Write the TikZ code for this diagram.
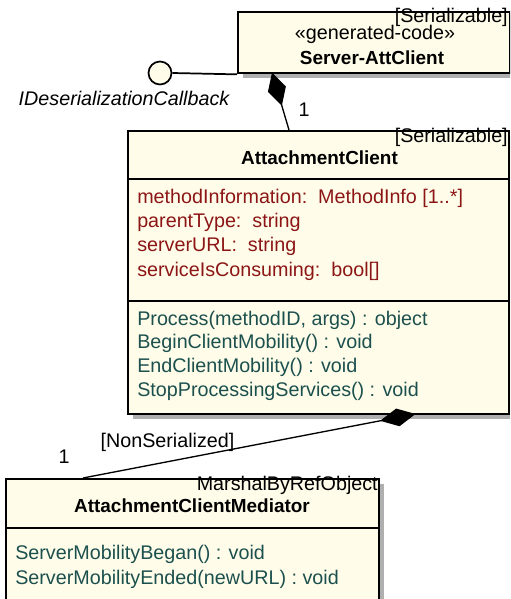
\documentclass[tikz,border=0pt]{standalone}
\usepackage{fontspec}
\setmainfont{Liberation Sans}
\usetikzlibrary{arrows.meta,shadows}
\definecolor{attrc}{RGB}{140,22,22}
\definecolor{methc}{RGB}{28,80,78}
\definecolor{boxfill}{RGB}{255,253,233}
\definecolor{shadowc}{RGB}{175,175,175}
\begin{document}
\begin{tikzpicture}[x=0.75pt,y=-0.75pt,
  umlbox/.style={draw=black, line width=1.4pt, fill=boxfill, inner sep=0pt, anchor=north west,
     drop shadow={shadow xshift=3.75pt, shadow yshift=-3.75pt, fill=shadowc, opacity=1}},
  txt/.style={inner sep=0pt, font=\fontsize{14.8}{17}\selectfont},
  boldtxt/.style={inner sep=0pt, anchor=center, font=\fontsize{14.2}{17}\selectfont\bfseries},
  lft/.style={txt, anchor=west},
  rgt/.style={txt, anchor=east},
  ctr/.style={txt, anchor=center},
  conn/.style={draw=black, line width=1pt},
  compo/.style={conn, -{Diamond[length=26pt, width=14pt, fill=black]}},
]
\useasboundingbox (0,0) rectangle (510,599);
\clip (0,0) rectangle (510,599);

% boxes
\node[umlbox, minimum width=272*0.75pt, minimum height=61.5*0.75pt] (srv) at (237,11) {};
\node[umlbox, minimum width=381*0.75pt, minimum height=283*0.75pt] (ac) at (127,130) {};
\node[umlbox, minimum width=373*0.75pt, minimum height=150*0.75pt] (med) at (5,478) {};

% compartment separators
\draw[line width=1.4pt] (127,179) coordinate (acd1a) -- (508,179) coordinate (acd1b);
\draw[line width=1.4pt] (127,301) coordinate (acd2a) -- (508,301) coordinate (acd2b);
\draw[line width=1.4pt] (5,528) coordinate (medda) -- (378,528) coordinate (meddb);

% Server-AttClient texts
\node[rgt] (srvst) at (508,17) {[Serializable]};
\node[ctr] (srvg) at (375,34.5) {«generated-code»};
\node[boldtxt] (srvn) at (372,57.5) {Server-AttClient};

% interface
\node[circle, draw=black, line width=1.3pt, fill=boxfill, minimum size=23*0.75pt, inner sep=0pt] (iface) at (160,73) {};
\draw[conn, line width=1.3pt] (iface.east) -- (srv.south west);
\node[ctr, font=\fontsize{14.8}{17}\selectfont\itshape] (ifacel) at (124,98) {IDeserializationCallback};

% AttachmentClient texts
\node[rgt] (acst) at (508,137) {[Serializable]};
\node[boldtxt] (acn) at (319.5,158) {AttachmentClient};
\node[lft, text=attrc] (a1) at (137,198) {methodInformation:\ \ MethodInfo [1..*]};
\node[lft, text=attrc] (a2) at (137,222.5) {parentType:\ \ string};
\node[lft, text=attrc] (a3) at (137,246.5) {serverURL:\ \ string};
\node[lft, text=attrc] (a4) at (137,271) {serviceIsConsuming:\ \ bool[]};
\node[lft, text=methc] (m1) at (137,320) {Process(methodID, args) : object};
\node[lft, text=methc] (m2) at (137,343.5) {BeginClientMobility() : void};
\node[lft, text=methc] (m3) at (137,367.5) {EndClientMobility() : void};
\node[lft, text=methc] (m4) at (137,391.5) {StopProcessingServices() : void};

% Mediator texts
\node[rgt] (medst) at (378,485) {MarshalByRefObject};
\node[boldtxt] (medn) at (192,506) {AttachmentClientMediator};
\node[lft, text=methc] (mm1) at (15,554) {ServerMobilityBegan() : void};
\node[lft, text=methc] (mm2) at (15,579) {ServerMobilityEnded(newURL) : void};

% connectors
\coordinate (acTop) at (289,130);
\coordinate (srvBot) at (272,72.5);
\draw[compo] (acTop) -- (srvBot);
\node[ctr] (one1) at (304,110) {1};

\coordinate (medTop) at (83,478);
\coordinate (acBot) at (415.5,414);
\draw[conn, -{Diamond[length=27pt, width=13.5pt, fill=black]}] (medTop) -- (acBot);
\node[ctr] (nonser) at (167.5,442) {[NonSerialized]};
\node[ctr] (one2) at (64,457) {1};
\end{tikzpicture}
\end{document}
